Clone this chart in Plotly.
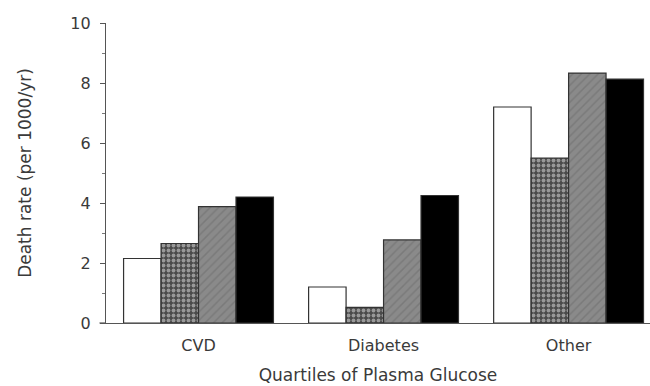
import plotly.graph_objects as go

categories = ["CVD", "Diabetes", "Other"]
q1 = [2.15, 1.2, 7.2]
q2 = [2.65, 0.52, 5.5]
q3 = [3.88, 2.77, 8.33]
q4 = [4.2, 4.25, 8.13]
y_ticks = [0, 2, 4, 6, 8, 10]

styles = [
    dict(color="white", pattern=None),
    dict(color="#4a4a4a", pattern=dict(shape=".", fillmode="overlay", fgcolor="#e8e8e8", size=5, solidity=0.45)),
    dict(color="#8a8a8a", pattern=dict(shape="/", fillmode="overlay", fgcolor="#6a6a6a", size=6, solidity=0.25)),
    dict(color="black", pattern=None),
]

fig = go.Figure()
for name, vals, st in zip(["Q1", "Q2", "Q3", "Q4"], [q1, q2, q3, q4], styles):
    marker = dict(color=st["color"], line=dict(color="#333", width=1.2))
    if st["pattern"]:
        marker["pattern"] = st["pattern"]
    fig.add_trace(go.Bar(x=categories, y=vals, name=name, marker=marker, showlegend=False))

tick_font = dict(family="DejaVu Sans, sans-serif", size=16, color="#3a3a3a")
title_font = dict(family="DejaVu Sans, sans-serif", size=17, color="#3a3a3a")
fig.update_layout(
    width=650, height=386,
    margin=dict(l=106, r=0, t=23, b=63),
    paper_bgcolor="white", plot_bgcolor="white",
    barmode="group", bargap=0.19, bargroupgap=0,
    font=tick_font,
    xaxis=dict(range=[-0.5, 2.44], showline=True, linecolor="#555", linewidth=1.2,
               ticks="", showgrid=False, zeroline=False, tickfont=tick_font,
               ticklabelstandoff=8,
               title=dict(text="Quartiles of Plasma Glucose", standoff=14, font=title_font)),
    yaxis=dict(range=[0, 10], tickvals=y_ticks, showline=True, linecolor="#555", linewidth=1.2,
               ticks="outside", ticklen=5, tickcolor="#555", showgrid=False, zeroline=False,
               ticklabelstandoff=6, tickfont=tick_font,
               minor=dict(tickvals=[1, 3, 5, 7, 9], ticks="outside", ticklen=3, tickcolor="#777"),
               title=dict(text="Death rate (per 1000/yr)", standoff=34, font=title_font)),
)
fig.add_shape(type="line", xref="paper", yref="paper", x0=-0.012, x1=0, y0=0, y1=0,
              line=dict(color="#555", width=1.2))
fig.write_html("out.html")
